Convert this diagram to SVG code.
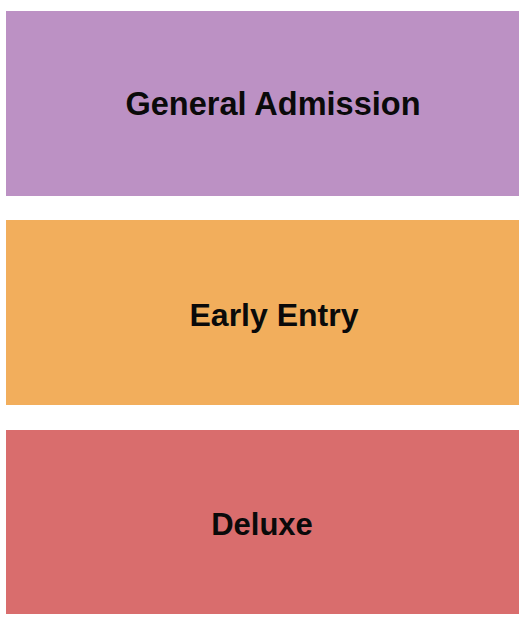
<svg xmlns="http://www.w3.org/2000/svg" width="525" height="625" viewBox="0 0 525 625">
<style>
.lbl{font-family:"Liberation Sans",Arial,sans-serif;font-weight:bold;font-size:32px;fill:#0a0a0a;text-anchor:middle}
</style>
<rect width="525" height="625" fill="#fff"/>
<g id="general-admission">
<rect x="6" y="11" width="513" height="185" fill="#BC91C4"/>
<text class="lbl" x="273" y="115" style="font-size:32.5px">General Admission</text>
</g>
<g id="early-entry">
<rect x="6" y="220" width="513" height="185" fill="#F2AE5C"/>
<text class="lbl" x="274" y="326">Early Entry</text>
</g>
<g id="deluxe">
<rect x="6" y="430" width="513" height="184" fill="#D96D6D"/>
<text class="lbl" x="262" y="535" style="font-size:31px">Deluxe</text>
</g>
<g id="connectors"/>
</svg>
